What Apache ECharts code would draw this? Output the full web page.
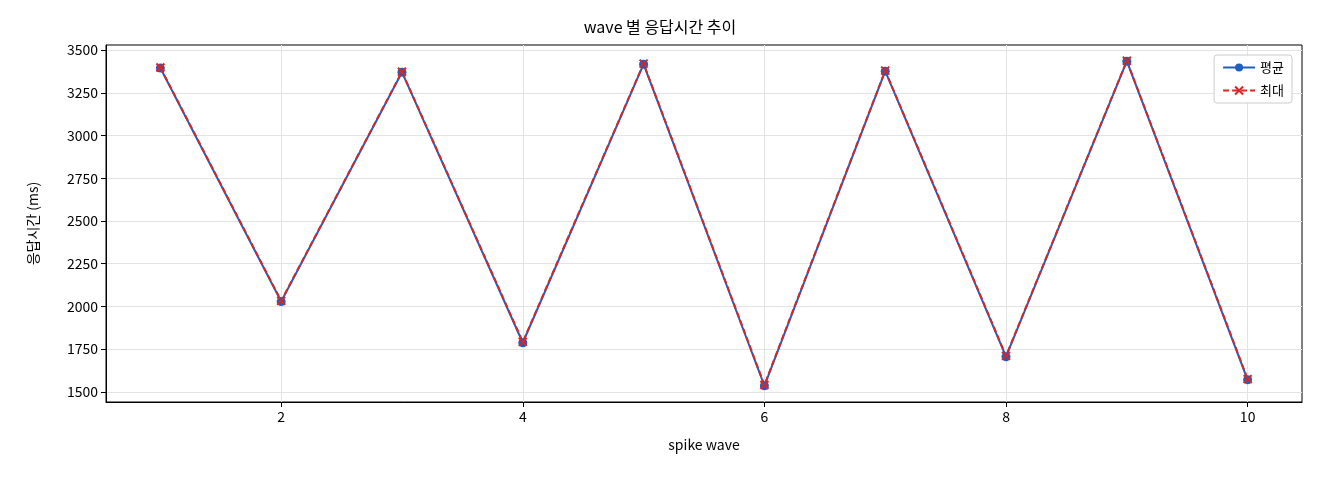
<!DOCTYPE html>
<html><head><meta charset="utf-8">
<script src="https://cdn.jsdelivr.net/npm/echarts@6/dist/echarts.min.js"></script>
<style>html,body{margin:0;background:#fff}#c{width:1320px;height:480px}</style>
</head><body><div id="c"></div>
<script>
const waves = [1,2,3,4,5,6,7,8,9,10];
const avgVals = [3395,2028,3371,1787,3418,1535,3377,1705,3435,1570];
const maxVals = [3398,2032,3373,1792,3421,1540,3380,1710,3438,1574];
const xTicks = [2,4,6,8,10];
const yTicks = [1500,1750,2000,2250,2500,2750,3000,3250,3500];
const F = '"Noto Sans CJK KR", "DejaVu Sans", sans-serif';
const chart = echarts.init(document.getElementById('c'));
const gridLine = {show:true, lineStyle:{color:'#e3e3e3', width:1}};
chart.setOption({
  animation:false,
  textStyle:{fontFamily:F},
  title:{text:'wave 별 응답시간 추이', left:'center', top:14, textStyle:{fontFamily:F,fontSize:16,fontWeight:'normal',color:'#000'}},
  grid:{left:106, right:18, top:45, bottom:78, show:true, borderColor:'#000', borderWidth:1, backgroundColor:'transparent'},
  legend:{right:28, top:55, orient:'vertical', itemWidth:32, itemHeight:10, itemGap:10,
    backgroundColor:'#fff', borderColor:'#ccc', borderWidth:1, borderRadius:3, padding:[6,8],
    textStyle:{fontFamily:F,fontSize:13,color:'#000'}},
  xAxis:{type:'value', min:0.55, max:10.45, name:'spike wave', nameLocation:'middle', nameGap:36,
    nameTextStyle:{fontFamily:F,fontSize:14,color:'#000'},
    axisLine:{onZero:false,lineStyle:{color:'#000'}},
    axisTick:{customValues:xTicks, lineStyle:{color:'#000'}},
    axisLabel:{customValues:xTicks, color:'#000', fontSize:14, fontFamily:F, formatter:v=>String(v)},
    splitLine:gridLine},
  yAxis:{type:'value', min:1440, max:3530, name:'응답시간 (ms)', nameLocation:'middle', nameGap:66,
    nameTextStyle:{fontFamily:F,fontSize:14,color:'#000'},
    axisLine:{show:true,onZero:false,lineStyle:{color:'#000'}},
    axisTick:{show:true, customValues:yTicks, lineStyle:{color:'#000'}},
    axisLabel:{customValues:yTicks, color:'#000', fontSize:14, fontFamily:F, formatter:v=>String(v)},
    splitLine:gridLine},
  series:[
    {name:'평균', type:'line', data:waves.map((w,i)=>[w,avgVals[i]]), symbol:'circle', symbolSize:9,
      itemStyle:{color:'#1f5fbf'}, lineStyle:{color:'#1f5fbf', width:2}},
    {name:'최대', type:'line', data:waves.map((w,i)=>[w,maxVals[i]]),
      symbol:'path://M-1,-1L1,1M1,-1L-1,1', symbolSize:8,
      itemStyle:{color:'#d62728', borderColor:'#d62728', borderWidth:2}, lineStyle:{color:'#d62728', width:2, type:[6,3]}}
  ]
});
</script></body></html>
